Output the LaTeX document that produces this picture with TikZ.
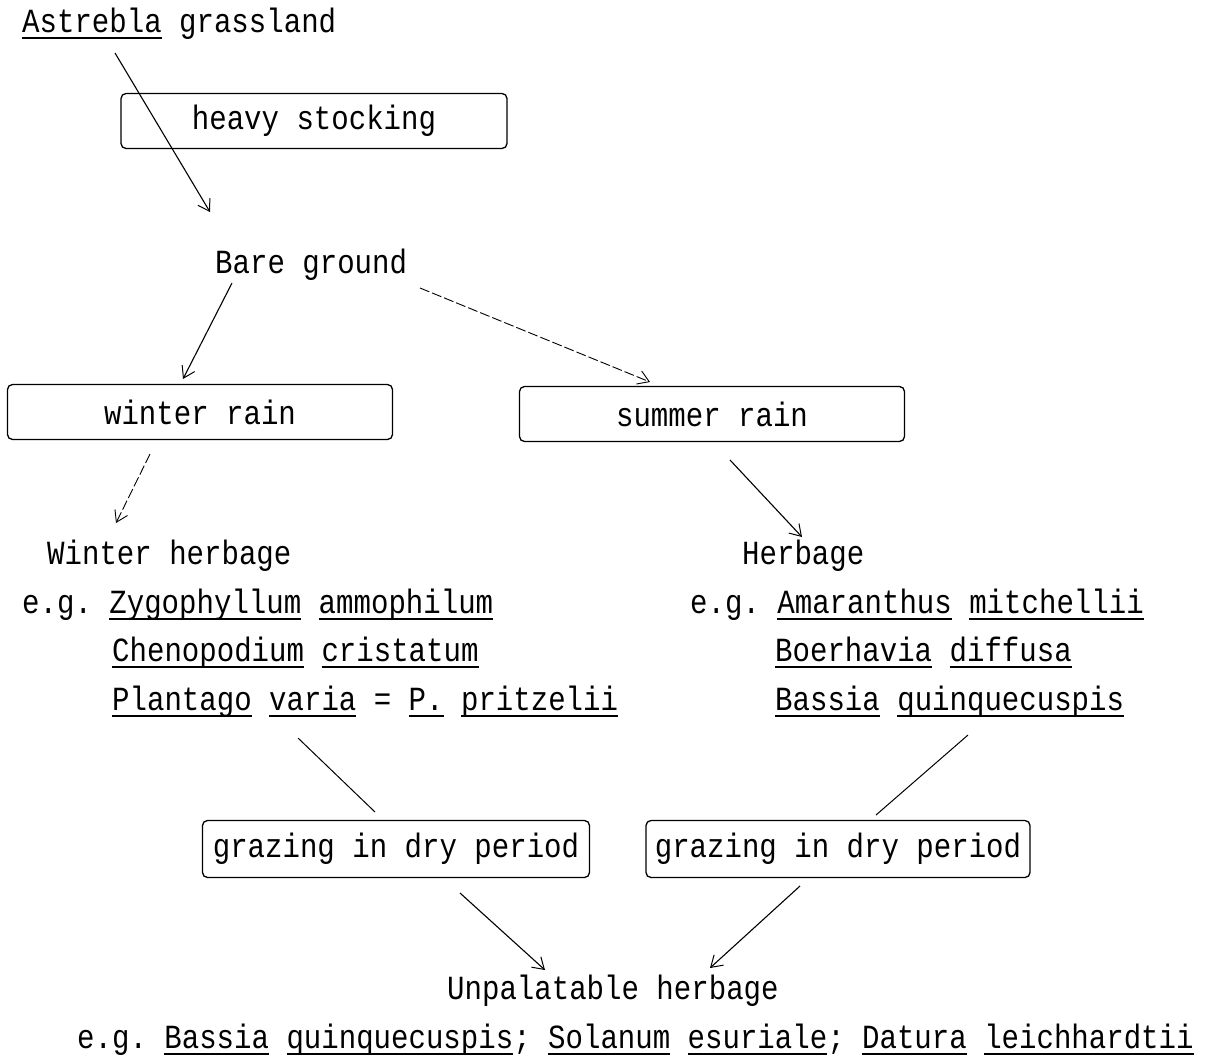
\documentclass[tikz,border=0pt]{standalone}
\usepackage{fontspec}
\usetikzlibrary{arrows.meta}
\newfontfamily\tw[FakeStretch=0.86]{Liberation Mono}
\newcommand\tu[1]{\setbox0\hbox{#1}\rlap{\rule[-6.5pt]{\wd0}{2pt}}#1}
\newcommand\twfont{\tw\fontsize{33.8}{38}\selectfont\frenchspacing}
\tikzset{
  lbl/.style={anchor=base west, inner sep=0pt, font=\twfont},
  rbox/.style={draw, rounded corners=5pt, line width=1.3pt, inner sep=0pt, font=\twfont},
  arr/.style={line width=1.1pt, -{Straight Barb[length=11pt,width=14pt,line width=1pt]}},
  darr/.style={line width=0.9pt, dash pattern=on 10pt off 3pt, -{Straight Barb[length=11pt,width=14pt,line width=0.9pt]}},
  ln/.style={line width=1pt}
}
\begin{document}
\begin{tikzpicture}[x=1pt,y=-1pt]
\useasboundingbox (0,0) rectangle (1215,1058);
% texts
\node[lbl] (ag) at (22,32) {\tu{Astrebla} grassland};
\node[rbox, minimum width=386pt, minimum height=55pt] (hs) at (314,121) {heavy stocking};
\node[lbl] (bg) at (215,273) {Bare ground};
\node[rbox, minimum width=385pt, minimum height=55pt] (wr) at (200,412) {winter rain};
\node[rbox, minimum width=385pt, minimum height=55pt] (sr) at (712,414) {summer rain};
\node[lbl] (wh) at (47,564) {Winter herbage};
\node[lbl] (hb) at (742,564) {Herbage};
\node[lbl] (w1) at (22,613) {e.g. \tu{Zygophyllum} \tu{ammophilum}};
\node[lbl] (w2) at (112,661) {\tu{Chenopodium} \tu{cristatum}};
\node[lbl] (w3) at (112,710) {\tu{Plantago} \tu{varia} = \tu{P.} \tu{pritzelii}};
\node[lbl] (h1) at (690,613) {e.g. \tu{Amaranthus} \tu{mitchellii}};
\node[lbl] (h2) at (775,661) {\tu{Boerhavia} \tu{diffusa}};
\node[lbl] (h3) at (775,710) {\tu{Bassia} \tu{quinquecuspis}};
\node[rbox, minimum width=387pt, minimum height=57pt] (g1) at (396,849) {grazing in dry period};
\node[rbox, minimum width=384pt, minimum height=57pt] (g2) at (838,849) {grazing in dry period};
\node[lbl] (up) at (447,999) {Unpalatable herbage};
\node[lbl] (ex) at (77,1048) {e.g. \tu{Bassia} \tu{quinquecuspis}; \tu{Solanum} \tu{esuriale}; \tu{Datura} \tu{leichhardtii}};
% connector ends
\coordinate (a1s) at (115,53);  \coordinate (a1e) at (210,212);
\coordinate (a2s) at (232,283); \coordinate (a2e) at (183,379);
\coordinate (a3s) at (420,288); \coordinate (a3e) at (650,382);
\coordinate (a4s) at (150,454); \coordinate (a4e) at (116,523);
\coordinate (a5s) at (730,460); \coordinate (a5e) at (802,537);
\coordinate (l1s) at (298,738); \coordinate (l1e) at (375,812);
\coordinate (l2s) at (968,735); \coordinate (l2e) at (876,815);
\coordinate (a6s) at (460,893); \coordinate (a6e) at (545,970);
\coordinate (a7s) at (800,886); \coordinate (a7e) at (710,968);
\draw[arr] (a1s) -- (a1e);
\draw[arr] (a2s) -- (a2e);
\draw[darr] (a3s) -- (a3e);
\draw[darr] (a4s) -- (a4e);
\draw[arr] (a5s) -- (a5e);
\draw[ln] (l1s) -- (l1e);
\draw[ln] (l2s) -- (l2e);
\draw[arr] (a6s) -- (a6e);
\draw[arr] (a7s) -- (a7e);
\end{tikzpicture}
\end{document}
